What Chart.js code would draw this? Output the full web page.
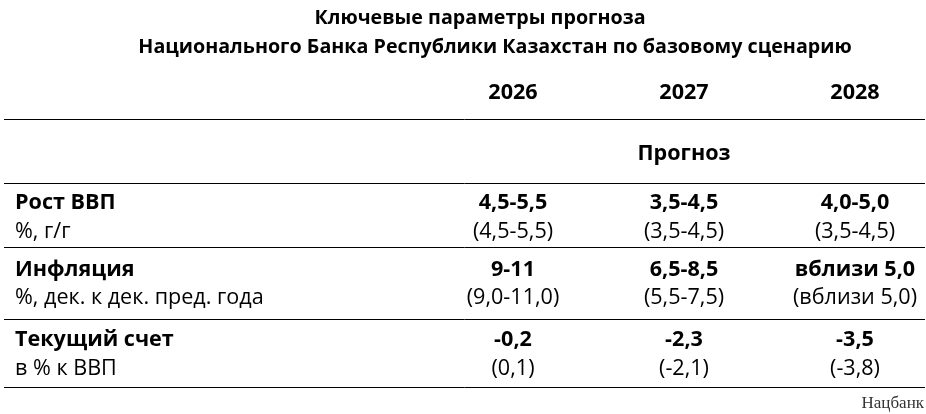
<!DOCTYPE html>
<html><head><meta charset="utf-8">
<script src="https://cdn.jsdelivr.net/npm/chart.js@4"></script>
<style>html,body{margin:0;padding:0;background:#fff}#c{display:block}</style>
</head><body><canvas id="c" width="926" height="414"></canvas>
<script>
const titleLines = ['Ключевые параметры прогноза','Национального Банка Республики Казахстан по базовому сценарию'];
const years = ['2026','2027','2028'];
const subHeader = 'Прогноз';
const rowNames = ['Рост ВВП','Инфляция','Текущий счет'];
const rowUnits = ['%, г/г','%, дек. к дек. пред. года','в % к ВВП'];
const base2026 = ['4,5-5,5','9-11','-0,2'];
const base2027 = ['3,5-4,5','6,5-8,5','-2,3'];
const base2028 = ['4,0-5,0','вблизи 5,0','-3,5'];
const prev2026 = ['(4,5-5,5)','(9,0-11,0)','(0,1)'];
const prev2027 = ['(3,5-4,5)','(5,5-7,5)','(-2,1)'];
const prev2028 = ['(3,5-4,5)','(вблизи 5,0)','(-3,8)'];
const source = 'Нацбанк';

// layout (pixel rows on a 0..414 reversed scale)
const Y_T = [18,47], X_T = [480,495], Y_HDR = 93, Y_SUB = 154, Y_ROW = [[203,232],[270,298],[340,369]];
const Y_LINES = [119,183,247,319,387], Y_SRC = 404;
const FAM = '"Open Sans", sans-serif';
const m = document.createElement('canvas').getContext('2d');
m.font = 'bold 20px '+FAM;
const K = 714 / m.measureText(titleLines[1]).width;
const fs = s => (s*K).toFixed(2)+'px ';

const cols = [base2026,base2027,base2028], prevs=[prev2026,prev2027,prev2028];
const datasets = [];
cols.forEach((c,i)=>{
  datasets.push({label:years[i],data:c.map((v,r)=>({x:i+1,y:Y_ROW[r][0],t:v,b:true}))
    .concat(prevs[i].map((v,r)=>({x:i+1,y:Y_ROW[r][1],t:v,b:false})))
    .concat([{x:i+1,y:Y_HDR,t:years[i],b:true}])});
});
datasets.push({label:'sub',data:[{x:2,y:Y_SUB,t:subHeader,b:true}]});
datasets.push({label:'names',data:rowNames.map((v,r)=>({x:-2,y:Y_ROW[r][0],t:v,b:true,l:true}))
  .concat(rowUnits.map((v,r)=>({x:-2,y:Y_ROW[r][1],t:v,b:false,l:true})))});

const plugin={id:'tbl',afterDatasetsDraw(ch){
  const c=ch.ctx, ys=ch.scales.y, a=ch.chartArea;
  c.save();
  c.strokeStyle='#000';c.lineWidth=1;
  Y_LINES.forEach(v=>{const p=Math.round(ys.getPixelForValue(v))+0.5;c.beginPath();c.moveTo(a.left+4,p);c.lineTo(a.right-1,p);c.stroke();});
  c.fillStyle='#000';c.textBaseline='middle';
  c.textAlign='center';c.font='bold '+fs(20)+FAM;
  titleLines.forEach((t,i)=>c.fillText(t,X_T[i],ys.getPixelForValue(Y_T[i])));
  ch.data.datasets.forEach((ds,di)=>{
    const meta=ch.getDatasetMeta(di);
    meta.data.forEach((el,j)=>{
      const d=ds.data[j];
      c.font=(d.b?'bold ':'')+fs(21.9)+FAM;
      c.textAlign=d.l?'left':'center';
      c.fillText(d.t,d.l?el.x+15:el.x,el.y);
    });
  });
  c.font='17px "Liberation Serif", serif';c.fillStyle='#333';c.textAlign='right';
  c.fillText(source,a.right-2,ys.getPixelForValue(Y_SRC));
  c.restore();
}};

new Chart(document.getElementById('c'),{type:'scatter',data:{datasets},
 options:{responsive:false,animation:false,events:[],layout:{padding:0},
  elements:{point:{radius:0}},
  plugins:{legend:{display:false},tooltip:{enabled:false}},
  scales:{x:{type:'linear',min:-2,max:-2+926/171,display:false},
          y:{type:'linear',min:0,max:414,reverse:true,display:false}}},
 plugins:[plugin]});
</script></body></html>
